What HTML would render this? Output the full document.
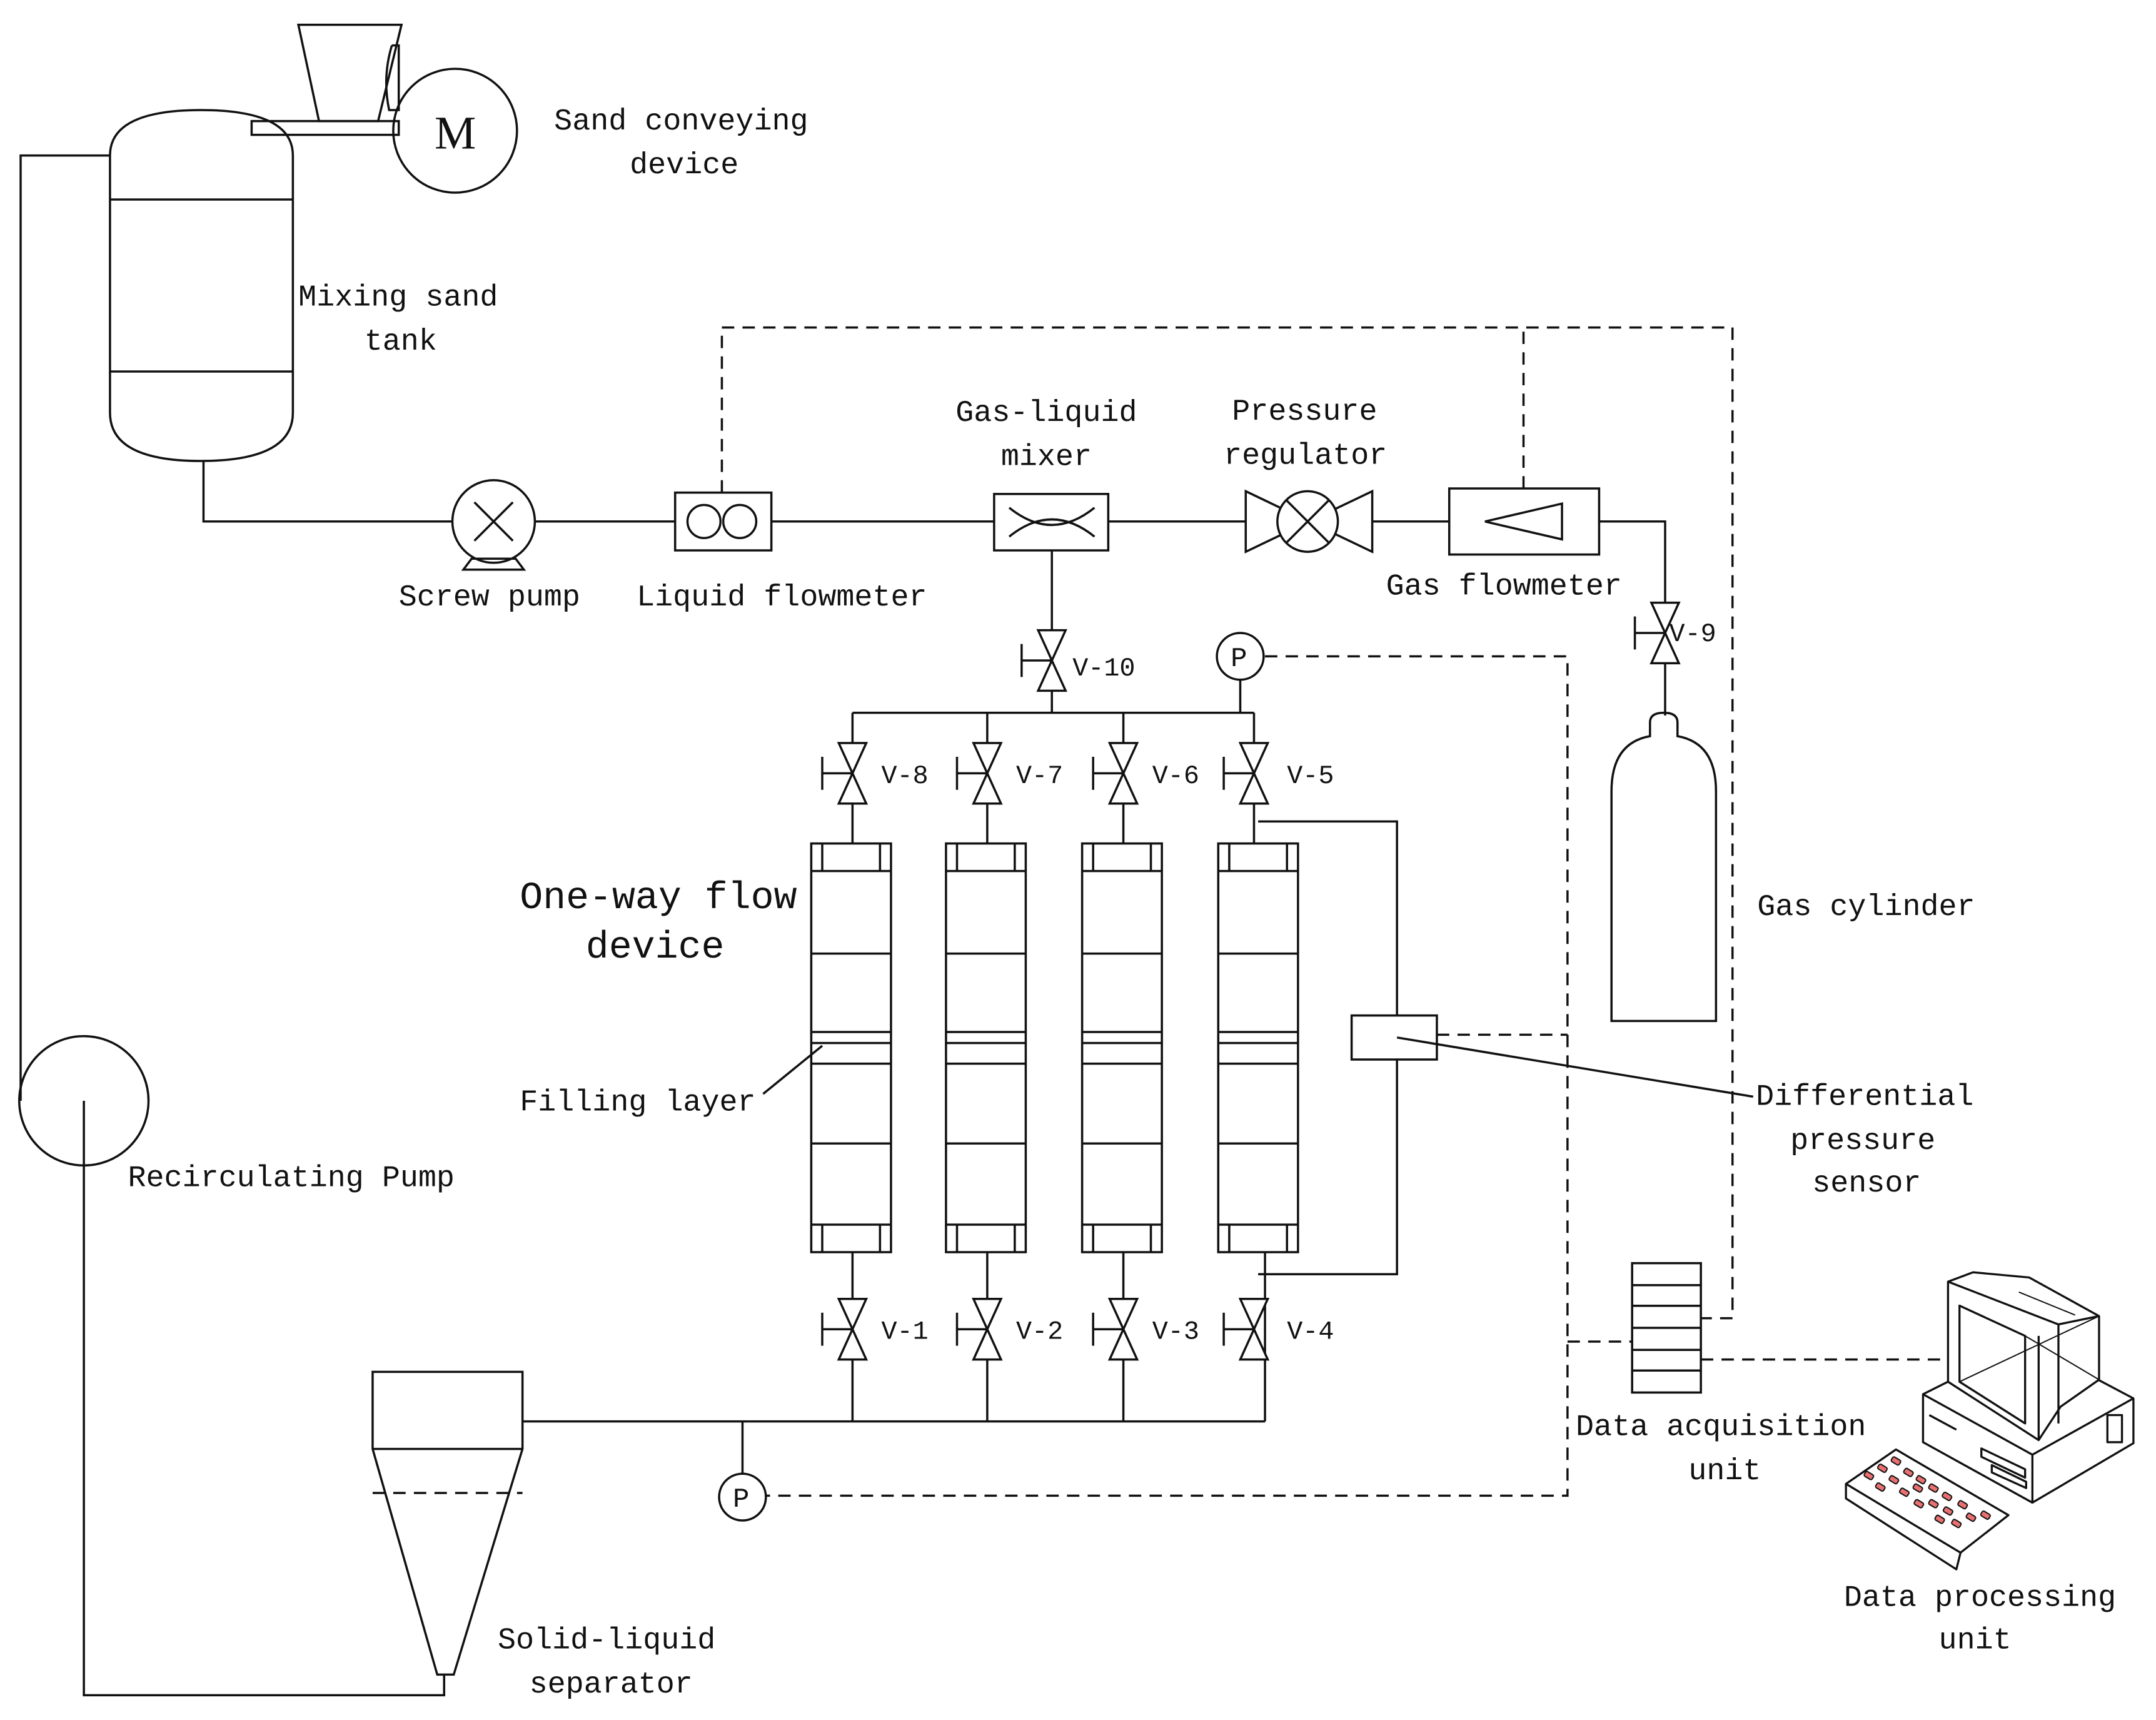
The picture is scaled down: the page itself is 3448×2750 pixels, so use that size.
<!DOCTYPE html>
<html><head><meta charset="utf-8"><style>
html,body{margin:0;padding:0;background:#fff;overflow:hidden;}
svg{display:block;}
text{font-family:"Liberation Mono","DejaVu Sans Mono",monospace;font-size:22px;fill:#111;}
</style></head><body>
<svg width="3448" height="2750" viewBox="0 0 1568 1250" preserveAspectRatio="none" xmlns="http://www.w3.org/2000/svg">
<defs>
<g id="valve" fill="none" stroke="#111" stroke-width="1.6">
<polygon points="-10,-22 10,-22 -10,22 10,22" fill="#fff"/>
<line x1="-22" y1="0" x2="0" y2="0"/>
<line x1="-22" y1="-12" x2="-22" y2="12"/>
</g>
<g id="col" fill="none" stroke="#111" stroke-width="1.6">
<rect x="0" y="0" width="58" height="297" fill="#fff"/>
<line x1="0" y1="20" x2="58" y2="20"/>
<line x1="8" y1="0" x2="8" y2="20"/><line x1="50" y1="0" x2="50" y2="20"/>
<line x1="0" y1="80" x2="58" y2="80"/>
<line x1="0" y1="137" x2="58" y2="137"/>
<line x1="0" y1="145" x2="58" y2="145"/>
<line x1="0" y1="160" x2="58" y2="160"/>
<line x1="0" y1="218" x2="58" y2="218"/>
<line x1="0" y1="277" x2="58" y2="277"/>
<line x1="8" y1="277" x2="8" y2="297"/><line x1="50" y1="277" x2="50" y2="297"/>
</g>
<rect id="key" x="-22" y="-13" width="44" height="26" rx="8" transform="rotate(31)"/>
</defs>
<g fill="none" stroke="#111" stroke-width="1.6">
<polygon points="217,18 292,18 275,88 232,88"/>
<path d="M285,33 L290,33 L290,80 L283,80 Q278,56 285,33"/>
<rect x="183" y="88" width="107" height="10"/>
<circle cx="331" cy="95" r="45"/>
<path d="M80,113 Q80,80 146,80 Q213,80 213,113 L213,300 Q213,335 146,335 Q80,335 80,300 Z"/>
<line x1="80" y1="145" x2="213" y2="145"/>
<line x1="80" y1="270" x2="213" y2="270"/>
<polyline points="80,113 15,113 15,800"/>
<circle cx="61" cy="800" r="47"/>
<polyline points="61,800 61,1232 323,1232 323,1217"/>
<polyline points="148,335 148,379 329,379"/>
<circle cx="359" cy="379" r="30"/>
<line x1="345" y1="365" x2="373" y2="393"/><line x1="373" y1="365" x2="345" y2="393"/>
<polygon points="343,406 375,406 381,414 337,414"/>
<line x1="389" y1="379" x2="491" y2="379"/>
<rect x="491" y="358" width="70" height="42"/>
<circle cx="512" cy="379" r="12"/><circle cx="538" cy="379" r="12"/>
<line x1="561" y1="379" x2="723" y2="379"/>
<rect x="723" y="359" width="83" height="41"/>
<path d="M734,369 Q765,394 796,369 M734,390 Q765,365 796,390"/>
<line x1="806" y1="379" x2="906" y2="379"/>
<polygon points="906,357 998,401 998,357 906,401" fill="#fff"/>
<circle cx="951" cy="379" r="22" fill="#fff"/>
<line x1="936" y1="364" x2="966" y2="394"/><line x1="966" y1="364" x2="936" y2="394"/>
<line x1="998" y1="379" x2="1054" y2="379"/>
<rect x="1054" y="355" width="109" height="48"/>
<polygon points="1080,379 1136,366 1136,392"/>
<polyline points="1163,379 1211,379 1211,520"/>
<use href="#valve" x="1211" y="460"/>
<path d="M1172,742 L1172,575 Q1172,540 1200,535 L1200,525 Q1200,518 1210,518 Q1220,518 1220,525 L1220,535 Q1248,540 1248,575 L1248,742 Z"/>
<line x1="765" y1="400" x2="765" y2="518"/>
<use href="#valve" x="765" y="480"/>
<line x1="620" y1="518" x2="912" y2="518"/>
<line x1="902" y1="494" x2="902" y2="518"/>
<circle cx="902" cy="477" r="17" fill="#fff"/>
<line x1="620" y1="518" x2="620" y2="613"/><line x1="718" y1="518" x2="718" y2="613"/>
<line x1="817" y1="518" x2="817" y2="613"/><line x1="912" y1="518" x2="912" y2="613"/>
<use href="#valve" x="620" y="562"/><use href="#valve" x="718" y="562"/>
<use href="#valve" x="817" y="562"/><use href="#valve" x="912" y="562"/>
<use href="#col" x="590" y="613"/><use href="#col" x="688" y="613"/>
<use href="#col" x="787" y="613"/><use href="#col" x="886" y="613"/>
<line x1="620" y1="910" x2="620" y2="1033"/><line x1="718" y1="910" x2="718" y2="1033"/>
<line x1="817" y1="910" x2="817" y2="1033"/><line x1="920" y1="910" x2="920" y2="1033"/>
<use href="#valve" x="620" y="966"/><use href="#valve" x="718" y="966"/>
<use href="#valve" x="817" y="966"/><use href="#valve" x="912" y="966"/>
<line x1="380" y1="1033" x2="920" y2="1033"/>
<line x1="540" y1="1033" x2="540" y2="1071"/>
<circle cx="540" cy="1088" r="17" fill="#fff"/>
<polygon points="271,997 380,997 380,1053 330,1217 318,1217 271,1053"/>
<line x1="271" y1="1053" x2="380" y2="1053"/>
<polyline points="915,597 1016,597 1016,738"/>
<polyline points="1016,770 1016,926 915,926"/>
<rect x="983" y="738" width="62" height="32" fill="#fff"/>
<line x1="1016" y1="754" x2="1275" y2="797"/>
<line x1="555" y1="795" x2="598" y2="760"/>
<rect x="1187" y="918" width="50" height="94"/>
<line x1="1187" y1="934" x2="1237" y2="934"/><line x1="1187" y1="949" x2="1237" y2="949"/>
<line x1="1187" y1="965" x2="1237" y2="965"/><line x1="1187" y1="981" x2="1237" y2="981"/>
<line x1="1187" y1="996" x2="1237" y2="996"/>
</g>
<g fill="none" stroke="#111" stroke-width="1.6" stroke-dasharray="9,6">
<polyline points="525,358 525,238 1260,238 1260,958 1237,958"/>
<line x1="1108" y1="355" x2="1108" y2="238"/>
<polyline points="920,477 1140,477 1140,1087 557,1087"/>
<line x1="1045" y1="752" x2="1140" y2="752"/>
<line x1="1140" y1="975" x2="1187" y2="975"/>
<line x1="1237" y1="988" x2="1417" y2="988"/>
<line x1="271" y1="1085" x2="380" y2="1085"/>
</g>
<!-- computer (crop coords scaled) -->
<g fill="#fff" stroke="#111" stroke-width="10" stroke-linejoin="round" transform="translate(1341,886) scale(0.1515)">
<polygon points="380,840 500,780 1220,770 1390,860 1390,1075 905,1360 380,1070"/>
<polyline fill="none" points="380,840 905,1130 1390,860"/>
<line x1="905" y1="1130" x2="905" y2="1360"/>
<rect x="1265" y="940" width="70" height="130" fill="none"/>
<polyline fill="none" points="410,940 540,1010 M410,980 540,1050 M410,1020 540,1090"/>
<path fill="none" d="M660,1100 L870,1200 L870,1240 L660,1140 Z M710,1180 L875,1260 L875,1290 L710,1215 Z"/>
<polygon points="500,300 620,255 890,280 1225,465 1225,770 1040,900 935,1060 500,780"/>
<polyline fill="none" points="500,300 1030,505 1225,465"/>
<line x1="1030" y1="505" x2="1030" y2="980"/>
<line x1="935" y1="560" x2="935" y2="1060"/>
<polygon points="555,415 870,560 870,980 555,780"/>
<line x1="555" y1="780" x2="1225" y2="465" stroke-width="6"/>
<line x1="870" y1="560" x2="1225" y2="770" stroke-width="6"/>
<polyline fill="none" stroke-width="6" points="840,350 1110,460 M860,335 1120,445 M880,325 1120,430"/>
<polygon points="10,1270 250,1105 790,1420 560,1600"/>
<polyline fill="none" points="10,1270 10,1340 540,1680 560,1600 M540,1680 790,1490 790,1420"/>
<g fill="#e87070" stroke="#111" stroke-width="6">
<use href="#key" x="120" y="1230"/><use href="#key" x="185" y="1195"/><use href="#key" x="250" y="1160"/>
<use href="#key" x="175" y="1285"/><use href="#key" x="240" y="1250"/><use href="#key" x="310" y="1215"/><use href="#key" x="370" y="1250"/>
<use href="#key" x="290" y="1310"/><use href="#key" x="355" y="1290"/><use href="#key" x="430" y="1290"/><use href="#key" x="495" y="1330"/>
<use href="#key" x="360" y="1365"/><use href="#key" x="430" y="1365"/><use href="#key" x="500" y="1400"/><use href="#key" x="570" y="1370"/>
<use href="#key" x="460" y="1440"/><use href="#key" x="540" y="1460"/><use href="#key" x="610" y="1430"/><use href="#key" x="680" y="1420"/>
</g>
</g>
<text x="316" y="108" style="font-family:'Liberation Serif',serif;font-size:34px">M</text>
<text x="403" y="94">Sand conveying</text>
<text x="458" y="126">device</text>
<text x="217" y="222">Mixing sand</text>
<text x="265" y="254">tank</text>
<text x="695" y="306">Gas-liquid</text>
<text x="728" y="338">mixer</text>
<text x="896" y="305">Pressure</text>
<text x="890" y="337">regulator</text>
<text x="290" y="440">Screw pump</text>
<text x="463" y="440">Liquid flowmeter</text>
<text x="1008" y="432">Gas flowmeter</text>
<text x="1214" y="466" style="font-size:19px">V-9</text>
<text x="780" y="491" style="font-size:19px">V-10</text>
<text x="895" y="484" style="font-size:20px">P</text>
<text x="533" y="1095" style="font-size:20px">P</text>
<text x="641" y="569" style="font-size:19px">V-8</text>
<text x="739" y="569" style="font-size:19px">V-7</text>
<text x="838" y="569" style="font-size:19px">V-6</text>
<text x="936" y="569" style="font-size:19px">V-5</text>
<text x="641" y="973" style="font-size:19px">V-1</text>
<text x="739" y="973" style="font-size:19px">V-2</text>
<text x="838" y="973" style="font-size:19px">V-3</text>
<text x="936" y="973" style="font-size:19px">V-4</text>
<text x="378" y="660" style="font-size:28px">One-way flow</text>
<text x="426" y="696" style="font-size:28px">device</text>
<text x="378" y="807">Filling layer</text>
<text x="1278" y="665">Gas cylinder</text>
<text x="1277" y="803">Differential</text>
<text x="1302" y="835">pressure</text>
<text x="1318" y="866">sensor</text>
<text x="93" y="862">Recirculating Pump</text>
<text x="1146" y="1043">Data acquisition</text>
<text x="1228" y="1075">unit</text>
<text x="1341" y="1167">Data processing</text>
<text x="1410" y="1198">unit</text>
<text x="362" y="1198">Solid-liquid</text>
<text x="385" y="1230">separator</text>
</svg>
</body></html>
